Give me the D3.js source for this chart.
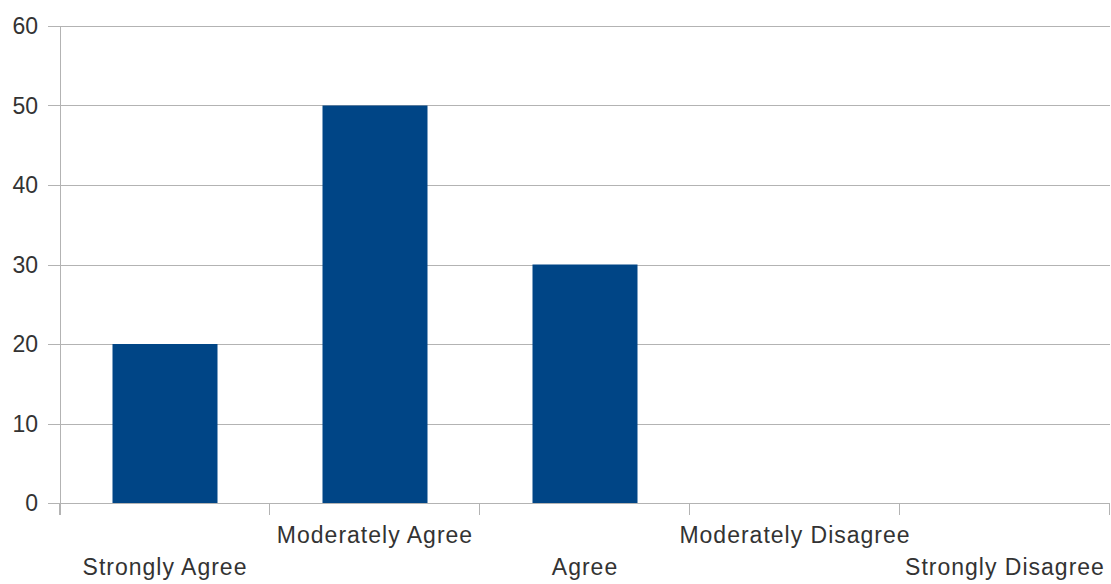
<!DOCTYPE html>
<html>
<head>
<meta charset="utf-8">
<script src="https://cdn.jsdelivr.net/npm/d3@7"></script>
<style>
  html, body { margin: 0; padding: 0; background: #fff; }
  svg { display: block; }
  text { font-family: "Liberation Sans", Arial, sans-serif; fill: #333; }
</style>
</head>
<body>
<svg id="chart" width="1111" height="584"></svg>
<script>
// Survey responses
const categories = ["Strongly Agree", "Moderately Agree", "Agree", "Moderately Disagree", "Strongly Disagree"];
const values = [20, 50, 30, 0, 0];
const yTicks = [0, 10, 20, 30, 40, 50, 60];

const svg = d3.select("#chart");
const margin = { left: 60, right: 1, top: 26, bottom: 81 };
const W = 1111, H = 584;

const x = d3.scaleBand()
  .domain(categories)
  .range([margin.left, W - margin.right])
  .paddingInner(0.5)
  .paddingOuter(0.25);

const y = d3.scaleLinear()
  .domain([0, 60])
  .range([H - margin.bottom, margin.top]);

// horizontal gridlines with outward ticks
svg.append("g")
  .selectAll("line")
  .data(yTicks)
  .join("line")
  .attr("x1", margin.left - 12)
  .attr("x2", W - margin.right)
  .attr("y1", d => Math.round(y(d)) + 0.5)
  .attr("y2", d => Math.round(y(d)) + 0.5)
  .attr("stroke", "#b3b3b3")
  .attr("stroke-width", 1);

// y-axis labels
svg.append("g")
  .selectAll("text")
  .data(yTicks)
  .join("text")
  .attr("x", 38)
  .attr("y", d => y(d) + 8)
  .attr("text-anchor", "end")
  .style("font-size", "23px")
  .text(d => d);

// vertical axis line
svg.append("line")
  .attr("x1", margin.left + 0.5).attr("x2", margin.left + 0.5)
  .attr("y1", y(60)).attr("y2", y(0) + 12)
  .attr("stroke", "#b3b3b3");

// category boundary ticks
const bounds = categories.map(c => x(c) - x.step() * x.paddingInner() / 2);
bounds.push(W - margin.right);
bounds[0] = margin.left;
svg.append("g")
  .selectAll("line")
  .data(bounds)
  .join("line")
  .attr("x1", d => Math.round(d) - 0.5)
  .attr("x2", d => Math.round(d) - 0.5)
  .attr("y1", y(0))
  .attr("y2", y(0) + 12)
  .attr("stroke", "#b3b3b3");

// bars
svg.append("g")
  .selectAll("rect")
  .data(values.map((v, i) => ({ c: categories[i], v })))
  .join("rect")
  .attr("x", d => x(d.c))
  .attr("width", x.bandwidth())
  .attr("y", d => y(d.v))
  .attr("height", d => y(0) - y(d.v))
  .attr("fill", "#004586");

// staggered category labels
svg.append("g")
  .selectAll("text")
  .data(categories)
  .join("text")
  .attr("x", d => x(d) + x.bandwidth() / 2)
  .attr("y", (d, i) => i % 2 === 0 ? 575 : 543)
  .attr("text-anchor", "middle")
  .style("font-size", "23px")
  .style("letter-spacing", "1px")
  .text(d => d);
</script>
</body>
</html>
